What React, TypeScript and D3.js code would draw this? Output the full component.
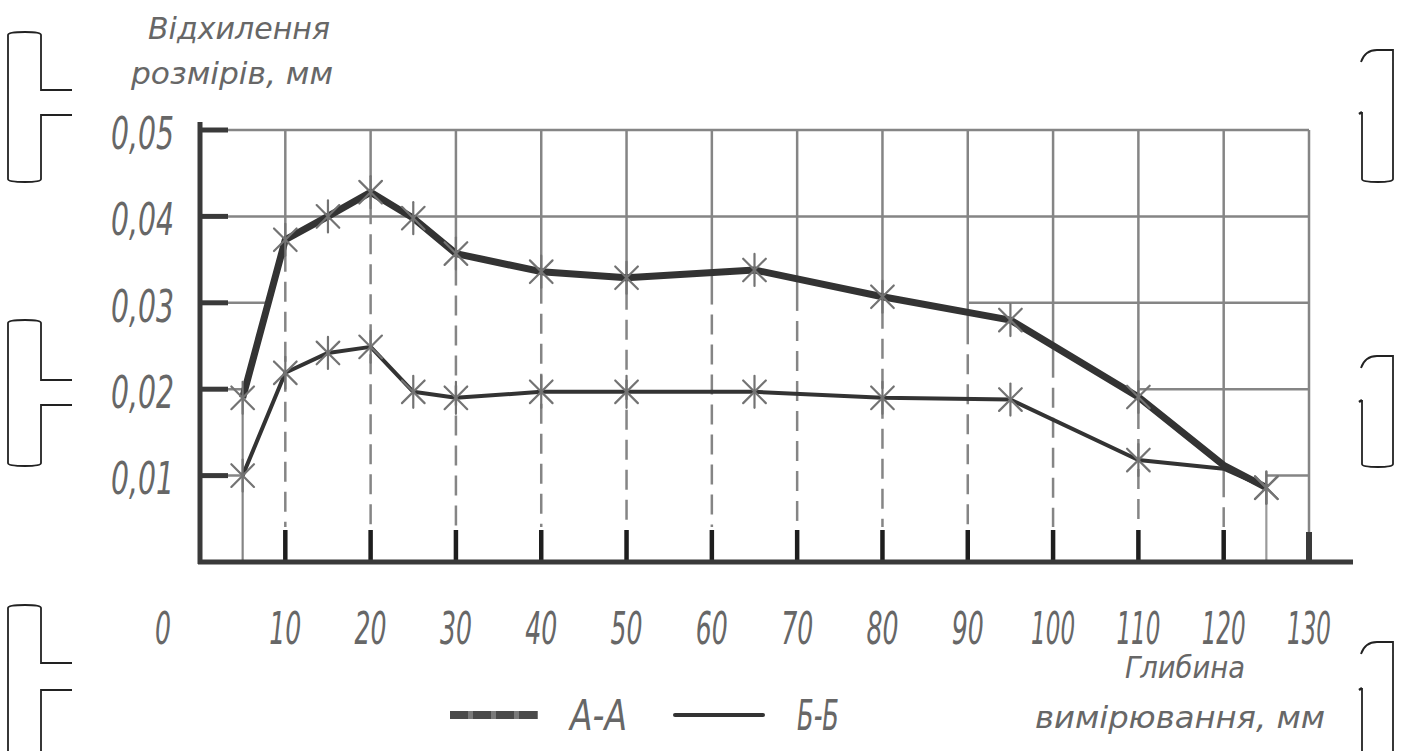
import React from 'react';
import * as d3 from 'd3';

// глибина вимірювання, мм
const depth = [5, 10, 15, 20, 25, 30, 40, 50, 65, 80, 95, 110, 120, 125];
// відхилення, мм — переріз А-А
const seriesAA = [0.019, 0.0373, 0.040, 0.0428, 0.0398, 0.0357, 0.0336, 0.0329, 0.0338, 0.0307, 0.028, 0.0191, 0.0112, 0.0086];
// переріз Б-Б
const seriesBB = [0.010, 0.0219, 0.0242, 0.0249, 0.0197, 0.019, 0.0197, 0.0197, 0.0197, 0.019, 0.0188, 0.0118, 0.0108, 0.0086];
// точки з маркерами
const markedDepths = [5, 10, 15, 20, 25, 30, 40, 50, 65, 80, 95, 110, 125];

const xTicks = [0, 10, 20, 30, 40, 50, 60, 70, 80, 90, 100, 110, 120, 130];
const yTicks = [0.01, 0.02, 0.03, 0.04, 0.05];
const fmtY = (v: number) => v.toFixed(2).replace('.', ',');

const W = 1406;
const H = 751;
const FONT = '"Liberation Sans Narrow", "DejaVu Sans Condensed", sans-serif';
const TXT = '#676767';
const GRID = '#858585';
const INK = '#333';

const x = d3.scaleLinear().domain([0, 130]).range([200, 1309]);
const y = d3.scaleLinear().domain([0, 0.05]).range([562, 130]);

// значення А-А в довільній точці (для обрізки сітки)
const aaAt = (d: number) => {
  if (d <= depth[0]) return seriesAA[0];
  for (let i = 1; i < depth.length; i++) {
    if (d <= depth[i]) {
      const t = (d - depth[i - 1]) / (depth[i] - depth[i - 1]);
      return seriesAA[i - 1] + t * (seriesAA[i] - seriesAA[i - 1]);
    }
  }
  return seriesAA[seriesAA.length - 1];
};

// де лінія А-А вперше досягає рівня (зліва)
const leftCross = (lvl: number) => {
  if (lvl <= seriesAA[0]) return depth[0];
  for (let i = 1; i < depth.length; i++) {
    if (seriesAA[i] >= lvl) {
      const t = (lvl - seriesAA[i - 1]) / (seriesAA[i] - seriesAA[i - 1]);
      return depth[i - 1] + t * (depth[i] - depth[i - 1]);
    }
  }
  return depth[0];
};

const Marker = ({ cx, cy }: { cx: number; cy: number }) => {
  const r = 16;
  const dx = r * Math.sin(Math.PI / 4);
  const dy = r * Math.cos(Math.PI / 4);
  return (
    <g stroke="#737373" strokeWidth={2.2} strokeLinecap="round">
      <line x1={cx} y1={cy - r} x2={cx} y2={cy + r} />
      <line x1={cx - dx} y1={cy - dy} x2={cx + dx} y2={cy + dy} />
      <line x1={cx - dx} y1={cy + dy} x2={cx + dx} y2={cy - dy} />
    </g>
  );
};

const LeftBracket = ({ t, b, l1, l2 }: { t: number; b: number; l1: number; l2: number }) => (
  <path
    d={`M72 ${l1} L41 ${l1} L41 ${t + 3} Q41 ${t} 25 ${t} Q8 ${t} 8 ${t + 3} L8 ${b - 3} Q8 ${b} 25 ${b} Q41 ${b} 41 ${b - 3} L41 ${l2} L72 ${l2}`}
    fill="none" stroke="#222" strokeWidth={1.8}
  />
);

const RightBracket = ({ t, b, n }: { t: number; b: number; n: number }) => (
  <g fill="none" stroke="#222" strokeWidth={1.8}>
    <path d={`M1361 ${t + 12} Q1365 ${t} 1377 ${t} L1393 ${t} L1393 ${b - 3} Q1393 ${b} 1378 ${b} Q1362 ${b} 1362 ${b - 3} L1362 ${n}`} />
    <line x1={1359} y1={n + 2} x2={1362} y2={n} strokeWidth={2.5} />
  </g>
);

const xLabelWidth = (v: number) => (v === 0 ? 16 : v >= 100 ? 44 : 32);

export default function App() {
  const lineGen = d3.line<number>().x((_, i) => x(depth[i])).y((v) => y(v));
  const gridX = d3.range(10, 121, 10);

  const hSegments: { x1: number; x2: number; y: number }[] = [];
  yTicks.forEach((lvl) => {
    if (lvl >= 0.04) {
      hSegments.push({ x1: x(0), x2: x(130), y: y(lvl) });
      return;
    }
    hSegments.push({ x1: x(0), x2: x(Math.max(5, leftCross(lvl))), y: y(lvl) });
    const cols = [...gridX, 125, 130].sort((a, b) => a - b);
    const start = cols.find((c) => c >= 30 && aaAt(c) < lvl);
    if (start !== undefined) hSegments.push({ x1: x(start), x2: x(130), y: y(lvl) });
  });

  return (
    <div style={{ position: 'absolute', left: 0, top: 0 }}>
      <svg width={W} height={H} style={{ display: 'block', background: '#fff' }}>
        {/* поля аркуша */}
        <LeftBracket t={32} b={182} l1={90} l2={115} />
        <LeftBracket t={320} b={466} l1={380} l2={405} />
        <LeftBracket t={605} b={800} l1={663} l2={690} />
        <RightBracket t={50} b={182} n={112} />
        <RightBracket t={356} b={467} n={400} />
        <RightBracket t={642} b={800} n={688} />

        {/* горизонтальна сітка */}
        {hSegments.map((s, i) => (
          <line key={'h' + i} x1={s.x1} x2={s.x2} y1={s.y} y2={s.y} stroke={GRID} strokeWidth={2.5} />
        ))}

        {/* вертикальна сітка: суцільна над кривою, штрихова нижче */}
        {gridX.map((d) => {
          const solidEnd = Math.min(y(aaAt(d)) + 32, 505);
          return (
            <g key={'v' + d}>
              <line x1={x(d)} x2={x(d)} y1={y(0.05)} y2={solidEnd} stroke={GRID} strokeWidth={2.5} />
              <line x1={x(d)} x2={x(d)} y1={solidEnd + 10} y2={527} stroke={GRID} strokeWidth={2.5} strokeDasharray="20 10" />
              <line x1={x(d)} x2={x(d)} y1={530} y2={560} stroke="#1e1e1e" strokeWidth={4.5} />
            </g>
          );
        })}
        <line x1={x(130)} x2={x(130)} y1={y(0.05)} y2={533} stroke={GRID} strokeWidth={2.5} />
        <line x1={x(130)} x2={x(130)} y1={532} y2={560} stroke="#3a3a3a" strokeWidth={6} />
        <line x1={x(5)} x2={x(5)} y1={y(seriesAA[0])} y2={560} stroke={GRID} strokeWidth={2.2} />
        <line x1={x(125)} x2={x(125)} y1={y(0.0086)} y2={560} stroke="#9a9a9a" strokeWidth={2.2} />

        {/* осі */}
        <line x1={x(0)} x2={x(0)} y1={122} y2={564} stroke="#3a3a3a" strokeWidth={5} />
        <line x1={198} x2={1353} y1={y(0)} y2={y(0)} stroke="#3a3a3a" strokeWidth={5} />
        {yTicks.map((v) => (
          <line key={'yt' + v} x1={x(0)} x2={x(0) + 28} y1={y(v)} y2={y(v)} stroke="#3a3a3a" strokeWidth={5} />
        ))}

        {/* криві */}
        <path d={lineGen(seriesBB) || ''} fill="none" stroke={INK} strokeWidth={4} strokeLinejoin="round" />
        <path d={lineGen(seriesAA) || ''} fill="none" stroke={INK} strokeWidth={7} strokeLinejoin="round" />
        {markedDepths.map((d) => {
          const i = depth.indexOf(d);
          return (
            <g key={'m' + d}>
              <Marker cx={x(d)} cy={y(seriesAA[i])} />
              <Marker cx={x(d)} cy={y(seriesBB[i])} />
            </g>
          );
        })}

        {/* підписи осей */}
        <g fontFamily={FONT} fontStyle="italic" fill={TXT}>
          {yTicks.map((v) => (
            <text key={'yl' + v} x={111} y={y(v) + 3} dy="0.36em" fontSize={44} textLength={63} lengthAdjust="spacingAndGlyphs">
              {fmtY(v)}
            </text>
          ))}
          {xTicks.map((v) => {
            const cx = v === 0 ? x(0) - 37 : x(v);
            const w = xLabelWidth(v);
            return (
              <text key={'xl' + v} x={cx - w / 2} y={628} dy="0.36em" fontSize={44} textLength={w} lengthAdjust="spacingAndGlyphs">
                {v}
              </text>
            );
          })}
          <text x={148} y={39} fontSize={31} textLength={182} lengthAdjust="spacingAndGlyphs">Відхилення</text>
          <text x={131} y={84} fontSize={31} textLength={202} lengthAdjust="spacingAndGlyphs">розмірів, мм</text>
          <text x={1125} y={678} fontSize={31} textLength={120} lengthAdjust="spacingAndGlyphs">Глибина</text>
          <text x={1035} y={728} fontSize={31} textLength={290} lengthAdjust="spacingAndGlyphs">вимірювання, мм</text>

          {/* легенда */}
          <text x={570} y={730} fontSize={42} textLength={57} lengthAdjust="spacingAndGlyphs">A-A</text>
          <text x={797} y={730} fontSize={42} textLength={42} lengthAdjust="spacingAndGlyphs">Б-Б</text>
        </g>
        <line x1={450} x2={538} y1={715} y2={715} stroke="#7a7a7a" strokeWidth={8} />
        <line x1={450} x2={538} y1={715} y2={715} stroke="#4a4a4a" strokeWidth={8} strokeDasharray="18 5" />
        <line x1={675} x2={763} y1={715} y2={715} stroke={INK} strokeWidth={4} strokeLinecap="round" />
      </svg>
    </div>
  );
}
